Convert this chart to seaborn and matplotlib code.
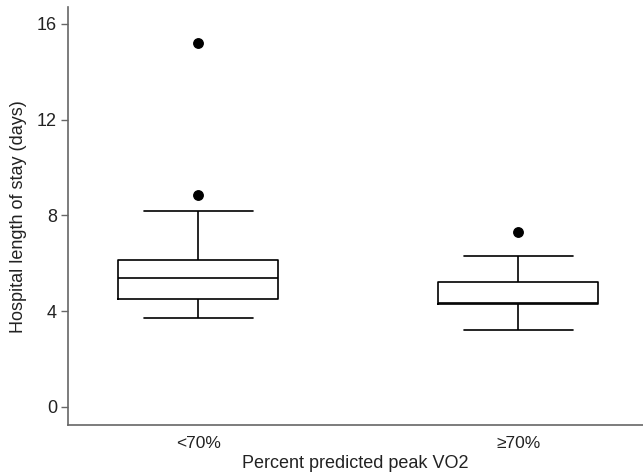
import matplotlib
matplotlib.use("Agg")
import matplotlib.pyplot as plt
import seaborn as sns
import pandas as pd

categories = ["<70%", "≥70%"]
low_vo2 = [3.7, 4.0, 4.3, 4.5, 4.8, 5.1, 5.4, 5.6, 5.9, 6.13, 8.2, 8.85, 15.2]
high_vo2 = [3.2, 3.6, 4.0, 4.3, 4.3, 4.32, 4.35, 4.6, 4.9, 5.23, 5.8, 6.3, 7.3]
y_ticks = [0, 4, 8, 12, 16]

df = pd.DataFrame({
    "group": [categories[0]] * len(low_vo2) + [categories[1]] * len(high_vo2),
    "los": low_vo2 + high_vo2,
})

sns.set_theme(style="white")
plt.rcParams["font.family"] = ["Liberation Sans", "DejaVu Sans"]

fig = plt.figure(figsize=(6.43, 4.74), dpi=100)
ax = fig.add_axes([0.106, 0.103, 0.894, 0.882])

lw = 1.2
sns.boxplot(data=df, x="group", y="los", order=categories, ax=ax,
            width=0.5, fill=False, color="black", linewidth=lw,
            whis=1.5, capwidths=0.34,
            boxprops=dict(color="black", linewidth=lw),
            medianprops=dict(color="black", linewidth=lw),
            whiskerprops=dict(color="black", linewidth=lw),
            capprops=dict(color="black", linewidth=lw),
            flierprops=dict(marker="o", markerfacecolor="black",
                            markeredgecolor="black", markersize=6.8))

ax.set_xlim(-0.406, 1.39)
ax.set_ylim(-0.77, 16.7)
ax.set_yticks(y_ticks)
ax.set_yticklabels([str(t) for t in y_ticks], fontsize=13, color="#222222")
ax.tick_params(axis="x", length=0, labelsize=12.5, colors="#222222", pad=8)
ax.tick_params(axis="y", length=5, width=1, color="#666666", left=True, pad=3)
ax.set_xlabel("Percent predicted peak VO2", fontsize=13, color="#222222", labelpad=3)
ax.set_ylabel("Hospital length of stay (days)", fontsize=13, color="#222222", labelpad=7)

for s in ["top", "right"]:
    ax.spines[s].set_visible(False)
for s in ["left", "bottom"]:
    ax.spines[s].set_color("#666666")
    ax.spines[s].set_linewidth(1.2)

fig.savefig("out.png", dpi=100, facecolor="white")
